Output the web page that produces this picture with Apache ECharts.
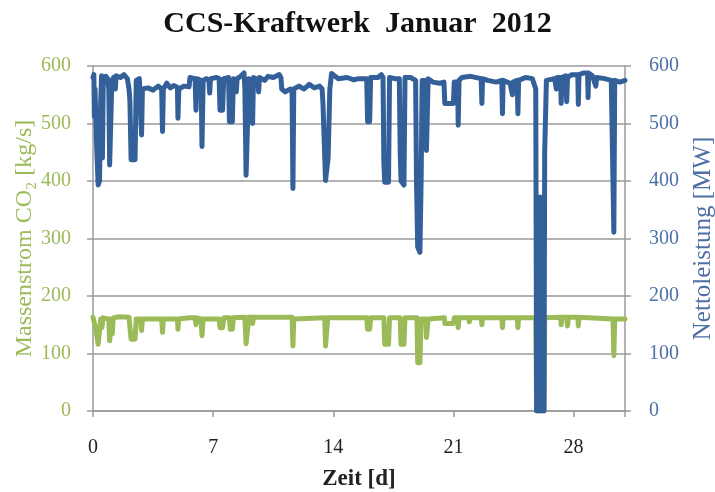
<!DOCTYPE html>
<html>
<head>
<meta charset="utf-8">
<script src="https://cdn.jsdelivr.net/npm/echarts@6/dist/echarts.min.js"></script>
<style>
html,body{margin:0;padding:0;background:#fff;}
#c{width:715px;height:492px;}
</style>
</head>
<body>
<div id="c"></div>
<script>
// ---- data ----
const xTicks = [0, 7, 14, 21, 28];
const yTicks = [0, 100, 200, 300, 400, 500, 600];

// Nettoleistung [MW] (right axis)
const powerDays = [
  0.00,0.05,0.08,0.12,0.20,0.30,0.38,0.45,0.50,0.55,0.60,0.75,0.85,0.92,0.97,1.03,1.10,1.20,1.30,1.35,
  1.60,1.80,2.00,2.10,2.15,2.22,2.45,2.52,2.70,2.78,2.83,2.88,3.20,3.50,3.80,4.00,4.05,4.10,4.30,4.50,
  4.70,4.92,4.95,5.00,5.30,5.60,5.65,5.95,6.00,6.05,6.30,6.35,6.42,6.60,6.75,6.80,6.85,7.20,7.35,7.40,
  7.55,7.62,7.90,7.95,8.12,8.18,8.30,8.35,8.40,8.60,8.80,8.85,8.92,9.02,9.08,9.25,9.30,9.35,9.60,9.65,
  9.70,10.00,10.20,10.50,10.85,10.95,11.00,11.20,11.50,11.60,11.65,11.70,12.00,12.30,12.60,12.90,13.20,13.35,13.40,13.55,
  13.62,13.70,13.80,13.90,14.30,14.80,15.20,15.50,15.95,16.00,16.12,16.18,16.60,16.80,16.90,16.95,17.00,17.22,17.28,17.60,
  17.85,17.90,17.95,18.12,18.18,18.50,18.80,18.85,18.92,19.05,19.12,19.18,19.40,19.43,19.48,19.53,19.80,20.20,20.45,20.50,
  21.00,21.05,21.25,21.28,21.33,21.50,22.00,22.62,22.66,22.70,23.00,23.50,23.82,23.86,23.90,24.30,24.40,24.44,24.48,24.72,
  24.76,24.80,25.20,25.60,25.80,25.85,26.02,26.05,26.08,26.28,26.32,26.42,26.90,27.00,27.05,27.25,27.28,27.32,27.55,27.60,
  27.65,27.90,28.25,28.28,28.32,28.60,28.82,28.85,28.88,29.10,29.30,29.35,29.80,30.20,30.30,30.35,30.40,30.70,31.00
];
const powerMW = [
  580,585,512,560,470,393,400,540,583,440,580,582,578,560,428,430,575,580,560,583,
  580,585,578,560,540,437,437,575,578,575,480,560,562,558,565,560,486,560,570,562,
  566,563,509,560,565,564,580,578,523,578,575,460,575,578,575,553,578,580,578,523,
  523,578,580,503,503,578,575,555,578,582,588,560,410,410,578,575,500,580,576,555,
  580,575,582,580,585,580,560,555,560,556,387,560,565,560,568,562,565,560,535,401,
  401,440,560,587,578,580,576,578,578,503,503,580,580,585,580,430,398,398,580,578,
  578,450,400,393,580,580,575,400,285,276,400,575,575,453,453,578,572,570,572,535,
  535,572,572,497,575,580,582,578,535,578,575,572,575,517,575,570,572,550,572,575,
  517,575,580,578,560,0,0,372,0,0,450,575,578,560,580,580,535,580,583,538,
  580,585,585,533,585,588,588,545,588,583,565,580,578,575,575,311,575,572,575
];

// Massenstrom CO2 [kg/s] (left axis)
const co2Days = [
  0.00,0.10,0.18,0.30,0.38,0.45,0.52,0.58,0.92,0.97,1.03,1.08,1.12,1.18,1.50,2.10,2.22,2.45,2.52,2.78,
  2.83,2.88,4.00,4.05,4.10,4.92,4.95,5.00,5.60,5.95,6.00,6.05,6.30,6.35,6.42,7.35,7.40,7.55,7.62,7.95,
  8.00,8.12,8.18,8.85,8.92,9.02,9.08,9.28,9.30,9.35,11.60,11.65,11.70,13.50,13.55,13.62,13.68,15.95,16.00,16.12,
  16.18,16.95,17.00,17.22,17.28,17.90,17.95,18.12,18.18,18.88,18.92,19.05,19.12,19.40,19.43,19.48,19.53,20.48,20.50,21.00,
  21.05,21.25,21.28,21.33,21.90,21.93,21.96,22.62,22.66,22.70,23.82,23.86,23.90,24.72,24.76,24.80,25.80,25.85,26.28,26.32,
  27.25,27.28,27.32,27.60,27.65,27.70,28.25,28.28,28.32,30.30,30.35,30.40,31.00
];
const co2Flow = [
  163,160,140,116,116,160,145,162,160,122,122,160,134,162,164,163,125,125,160,160,
  140,160,160,137,160,160,142,160,162,162,150,162,160,131,160,160,145,145,162,162,
  142,142,162,163,117,117,163,163,152,163,163,113,160,162,113,113,162,162,142,142,
  162,162,116,116,162,162,116,116,162,162,84,84,160,160,128,128,160,162,152,152,
  162,162,145,162,162,155,162,162,150,162,162,145,162,162,145,162,162,0,0,162,
  163,150,163,163,148,163,163,148,163,160,96,160,160
];

const green = '#9BBB59';
const blue = '#34609A';
const blueText = '#4E70A3';
const grey = '#9a9a9a';
const serif = '"Liberation Serif","DejaVu Serif",serif';

const co2Data = co2Days.map((d, i) => [d, co2Flow[i]]);
const powerData = powerDays.map((d, i) => [d, powerMW[i]]);

const chart = echarts.init(document.getElementById('c'), null, {renderer: 'canvas'});
chart.setOption({
  animation: false,
  backgroundColor: '#fff',
  title: {
    text: 'CCS-Kraftwerk  Januar  2012',
    left: 'center', top: 4,
    textStyle: {fontFamily: serif, fontSize: 30, fontWeight: 'bold', color: '#111'}
  },
  grid: {left: 93, right: 90, top: 66, bottom: 81, containLabel: false, outerBoundsMode: 'none'},
  xAxis: {
    type: 'value', min: 0, max: 31, interval: 7,
    name: 'Zeit [d]', nameLocation: 'middle', nameGap: 57, nameMoveOverlap: false,
    nameTextStyle: {fontFamily: serif, fontSize: 23, fontWeight: 'bold', color: '#222'},
    axisLine: {show: true, lineStyle: {color: grey, width: 1.5}},
    axisTick: {show: true, length: 6, lineStyle: {color: grey, width: 1.5}},
    axisLabel: {fontFamily: serif, fontSize: 20, color: '#222', margin: 27,
      formatter: v => xTicks.includes(v) ? String(v) : ''},
    splitLine: {show: false}
  },
  yAxis: [
    {
      type: 'value', min: 0, max: 600, interval: 100, position: 'left',
      name: 'Massenstrom CO₂ [kg/s]', nameLocation: 'middle', nameGap: 56, nameRotate: 90,
      nameMoveOverlap: false,
      nameTextStyle: {fontFamily: serif, fontSize: 24, color: green},
      axisLine: {show: true, lineStyle: {color: grey, width: 1.5}},
      axisTick: {show: true, length: 6, lineStyle: {color: grey, width: 1.5}},
      axisLabel: {fontFamily: serif, fontSize: 20, color: green, margin: 22,
        formatter: v => yTicks.includes(v) ? String(v) : ''},
      splitLine: {show: true, lineStyle: {color: grey, width: 1.5}}
    },
    {
      type: 'value', min: 0, max: 600, interval: 100, position: 'right',
      name: 'Nettoleistung [MW]', nameLocation: 'middle', nameGap: 66, nameRotate: 90,
      nameMoveOverlap: false,
      nameTextStyle: {fontFamily: serif, fontSize: 25, color: blueText},
      axisLine: {show: true, lineStyle: {color: grey, width: 1.5}},
      axisTick: {show: true, length: 6, lineStyle: {color: grey, width: 1.5}},
      axisLabel: {fontFamily: serif, fontSize: 20, color: blueText, margin: 24,
        formatter: v => yTicks.includes(v) ? String(v) : ''},
      splitLine: {show: false}
    }
  ],
  series: [
    {
      type: 'line', yAxisIndex: 0, data: co2Data, showSymbol: false, z: 2,
      lineStyle: {color: green, width: 5, cap: 'round', join: 'round'}
    },
    {
      type: 'line', yAxisIndex: 1, data: powerData, showSymbol: false, z: 3,
      lineStyle: {color: blue, width: 5, cap: 'round', join: 'round'}
    }
  ]
});
</script>
</body>
</html>
